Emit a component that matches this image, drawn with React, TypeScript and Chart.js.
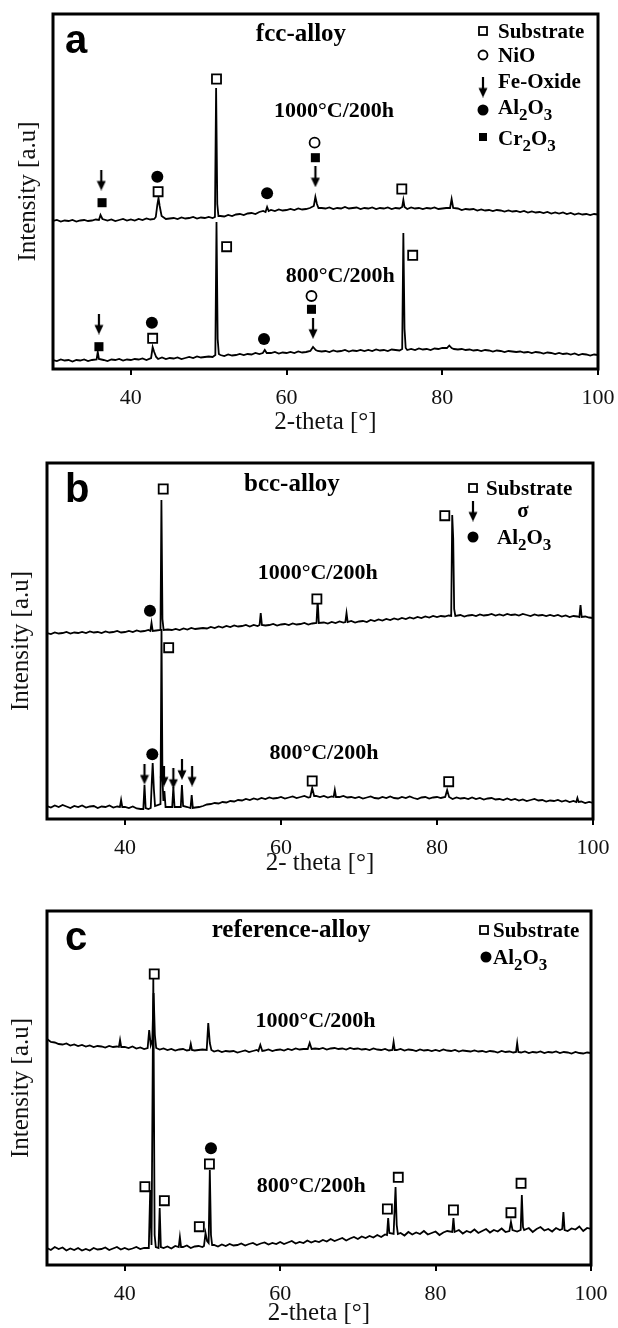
import React, { useEffect, useRef } from "react";
import { Chart, registerables } from "chart.js";
Chart.register(...registerables);

const SERIF = '"Liberation Serif", "Times New Roman", serif';
const SANS = '"Liberation Sans", Arial, sans-serif';

// scan sampling (2-theta start / step of the recorded baseline)
const scanStart = 30;
const scanStep = 0.5;
const xTicks = [40, 60, 80, 100];

// ---------- panel a : fcc-alloy ----------
const a800Base = [
  9, 8, 9.5, 8.5, 9, 7.5, 9, 8.5, 9.5, 8,
  9, 8.5, 10, 9, 8, 9.5, 9, 10, 8.5, 9.5,
  9, 10, 9.5, 10.5, 9, 10, 11, 10, 11.5, 10,
  11, 10.5, 11.5, 10, 11, 12, 11, 12.5, 11.5, 12,
  12.5, 12, 13, 14, 13, 14.5, 13.5, 14, 15, 14,
  15, 14.5, 16, 15, 16.5, 15, 16, 17, 15.5, 16.5,
  16, 17, 16, 17.5, 16.5, 17, 18, 17, 18, 17.5,
  18, 17, 18.5, 17.5, 18, 19, 17.5, 18.5, 18, 19,
  18, 19, 18, 19.5, 18.5, 19, 18, 19.5, 19, 18.5,
  19.5, 19, 20, 19, 20.5, 19.5, 20, 19, 20.5, 20,
  21, 20, 21.5, 20, 19.5, 20, 19, 19.5, 18.5, 19,
  18, 19, 18.5, 17.5, 18.5, 18, 17, 18, 17.5, 17,
  17.5, 16.5, 17, 16, 17, 16.5, 15.5, 16.5, 16, 15,
  16, 15, 15.5, 14.5, 15.5, 14, 15, 14.5, 13.5, 14.5,
  14,
];
const a800Peaks = [
  [35.6, 9.5], [35.75, 17], [35.9, 10],
  [42.6, 11], [42.8, 22], [43.0, 17], [43.25, 12],
  [50.85, 14], [51.0, 147], [51.15, 30], [51.3, 15],
  [56.95, 16], [57.2, 19], [57.45, 16],
  [63.05, 18], [63.4, 22], [63.75, 19],
  [74.85, 20], [75.0, 136], [75.15, 40], [75.3, 21],
  [80.6, 21], [80.9, 23.5], [81.2, 21],
];
const a1000Base = [
  148, 149, 147.5, 148.5, 148, 149, 147.5, 148.5, 149, 148,
  148.5, 149.5, 148, 149, 148.5, 149.5, 148, 149, 150, 148.5,
  149.5, 148.5, 150, 149, 150.5, 149.5, 150, 150.5, 151, 150,
  150.5, 151, 150, 151.5, 150.5, 151, 152, 150.5, 151.5, 151,
  152, 151, 152, 153, 152.5, 154, 153, 154.5, 155, 154,
  155.5, 156, 155, 157, 158, 157.5, 159, 158, 159.5, 158.5,
  159, 160, 159, 160.5, 159.5, 160, 161, 160, 160.5, 161,
  160.5, 161.5, 160, 161, 160.5, 162, 160.5, 161, 161.5, 160,
  161, 160.5, 161.5, 160, 161, 160.5, 161.5, 160, 161, 160.5,
  161, 160, 161.5, 160.5, 161, 160, 161, 160.5, 161.5, 160,
  160.5, 161, 160, 159.5, 160.5, 159, 160, 159.5, 160, 158.5,
  159.5, 158.5, 159, 158, 159, 158.5, 157.5, 158.5, 157.5, 158,
  157, 158, 156.5, 157.5, 156.5, 157, 156, 157, 155.5, 156.5,
  155.5, 156.5, 155, 156, 154.5, 155.5, 154.5, 155, 154, 155,
  154.5,
];
const a1000Peaks = [
  [35.9, 149], [36.1, 154], [36.35, 150],
  [43.2, 152], [43.4, 164], [43.55, 171], [43.7, 163], [43.95, 153],
  [50.8, 152], [50.95, 281], [51.1, 165], [51.25, 153],
  [57.3, 157], [57.5, 162], [57.7, 158],
  [63.5, 163], [63.7, 172], [63.9, 165], [64.1, 161],
  [74.85, 162], [75.0, 169], [75.15, 162],
  [81.0, 161], [81.2, 170], [81.4, 161],
];
const aSubstrate = [[51.0, 290], [43.5, 177.3], [74.8, 180], [42.8, 30.7], [52.3, 122.3], [76.2, 113.7]];
const aNiO = [[63.6, 226.3], [63.2, 73]];
const aFeOxide = [[36.2, 189], [63.7, 192.3], [35.9, 45], [63.4, 40.7]];
const aAl2O3 = [[43.4, 192.3], [57.5, 175.7], [42.7, 46.3], [57.1, 30]];
const aCr2O3 = [[36.3, 166.3], [63.7, 211.3], [35.9, 22.3], [63.2, 59.7]];

// ---------- panel b : bcc-alloy ----------
const b800Base = [
  13, 11.5, 13.5, 12, 14, 12.5, 11, 13, 12, 13.5,
  11.5, 12.5, 13, 11, 12.5, 12, 13.5, 11.5, 12.5, 13,
  12, 11, 12.5, 10.5, 10, 9.5, 10, 11, 11.5, 12,
  11, 12, 11, 12.5, 10.5, 11, 12, 10.5, 11.5, 12,
  13, 14.5, 15, 16, 15.5, 17, 16.5, 18, 17.5, 19,
  18.5, 20, 19, 20.5, 19.5, 21, 20, 21.5, 20.5, 21,
  22, 20.5, 21.5, 22.5, 21, 22, 23, 21.5, 22.5, 23,
  22, 23, 21.5, 22.5, 21, 22, 23, 21.5, 22, 21,
  22, 20.5, 21.5, 22.5, 21, 20.5, 22, 21, 22.5, 21,
  20.5, 22, 21, 22.5, 21, 20, 21.5, 22, 20.5, 21.5,
  22, 21, 22.5, 21, 20, 21.5, 20.5, 21, 20, 21.5,
  20, 21, 19.5, 20.5, 21, 19.5, 20, 19, 20.5, 19,
  20, 18.5, 19.5, 18, 19, 20, 18.5, 19, 17.5, 18.5,
  18, 19, 17.5, 18.5, 17, 18, 16.5, 17.5, 16, 17,
  16,
];
const b800Peaks = [
  [39.35, 12], [39.5, 19], [39.65, 12],
  [42.35, 10], [42.5, 34], [42.65, 11],
  [43.3, 11], [43.45, 40], [43.55, 56], [43.7, 30], [43.85, 13],
  [44.55, 15], [44.68, 190], [44.8, 40], [44.92, 18], [45.05, 28], [45.2, 12],
  [46.05, 12], [46.2, 32], [46.35, 12],
  [47.15, 12], [47.3, 34], [47.45, 13],
  [48.4, 11], [48.55, 24], [48.7, 11],
  [63.75, 22], [64.0, 31], [64.25, 23],
  [66.75, 22], [66.9, 29], [67.05, 22],
  [81.05, 22], [81.3, 29], [81.55, 22],
  [97.85, 17], [98.0, 21], [98.15, 17],
];
const b1000Base = [
  186, 185, 186.5, 185.5, 186, 187, 185.5, 186.5, 186, 187,
  186, 187.5, 186.5, 187, 186, 187.5, 186.5, 187, 188, 186.5,
  187, 188, 187, 188.5, 187.5, 188, 189, 187.5, 188.5, 189,
  188.5, 189.5, 189, 190, 189, 190.5, 189.5, 191, 190, 190.5,
  191, 190.5, 192, 191, 192.5, 191.5, 193, 192, 193.5, 192.5,
  193, 194, 192.5, 194, 193, 194.5, 193.5, 194, 195, 193.5,
  194.5, 195, 194, 195.5, 194.5, 195, 196, 194.5, 195.5, 196,
  195, 196.5, 195.5, 197, 196, 197.5, 196.5, 197, 198, 196.5,
  197.5, 198, 197, 199, 198, 199.5, 198.5, 200, 199, 200.5,
  199.5, 201, 200, 201.5, 200.5, 202, 201, 202.5, 201.5, 203,
  202, 203, 202.5, 203.5, 202, 203, 204, 202.5, 203.5, 204,
  203, 204.5, 203.5, 204, 205, 203.5, 204.5, 203.5, 205, 204,
  204.5, 203.5, 205, 204, 203, 204.5, 203.5, 204, 203, 204,
  203, 204, 202.5, 203.5, 202, 203, 202.5, 201.5, 202.5, 201.5,
  201,
];
const b1000Peaks = [
  [43.25, 188], [43.4, 196], [43.55, 188],
  [44.55, 189], [44.67, 319], [44.8, 200], [44.95, 189],
  [57.25, 194], [57.4, 206], [57.55, 194],
  [64.55, 196], [64.7, 219], [64.85, 196],
  [68.25, 197], [68.4, 206], [68.55, 197],
  [81.82, 203], [81.95, 304], [82.08, 280], [82.2, 210], [82.35, 203],
  [98.25, 202], [98.4, 214], [98.55, 202],
];
const bSubstrate = [[44.9, 330], [81.0, 303.3], [64.6, 220], [45.6, 171.3], [64.0, 38], [81.5, 37.3]];
const bSigma = [[42.5, 45], [45.0, 43], [46.2, 40.7], [47.3, 49.7], [48.6, 43]];
const bAl2O3 = [[43.2, 208.3], [43.5, 64.7]];

// ---------- panel c : reference-alloy ----------
const c800Base = [
  17, 15, 18, 16, 17.5, 14.5, 16.5, 15, 17, 14.5,
  16, 14.5, 17, 15.5, 16, 17.5, 15, 16.5, 18, 15.5,
  17, 15.5, 16.5, 18, 16, 17, 15.5, 17.5, 16, 18,
  17, 18.5, 16.5, 19, 17.5, 18, 19.5, 17, 18.5, 19,
  18, 19.5, 18, 20, 18.5, 20.5, 19, 21, 19.5, 20,
  21.5, 19.5, 21, 22, 20, 21.5, 22.5, 20.5, 22, 21,
  23, 21, 22.5, 24, 21.5, 23, 22, 24.5, 22.5, 24,
  23, 25, 23.5, 26, 24, 25.5, 27, 24.5, 26.5, 28,
  26, 28.5, 27, 29, 27.5, 30, 28, 30.5, 29, 31,
  30, 32, 29.5, 33, 30.5, 32.5, 31, 34, 30.5, 32,
  33.5, 30, 32.5, 34, 31, 33, 35, 31.5, 34, 32.5,
  35.5, 32, 34, 36, 32.5, 35, 33.5, 36.5, 33, 35,
  37, 33.5, 35.5, 34, 37, 33, 36, 38, 34.5, 36,
  33.5, 37, 35, 38, 34, 36.5, 35.5, 38.5, 34, 37,
  36,
];
const c800Peaks = [
  [43.1, 17], [43.28, 75], [43.45, 20], [43.68, 287], [43.85, 30], [44.0, 18],
  [44.35, 17], [44.5, 57], [44.65, 18],
  [46.95, 18], [47.1, 28], [47.25, 18],
  [50.2, 19], [50.4, 32], [50.6, 24], [50.8, 22], [50.95, 95], [51.1, 30], [51.25, 20],
  [73.75, 30], [73.9, 47], [74.05, 32], [74.6, 31], [74.85, 78], [75.0, 40], [75.15, 31],
  [82.15, 33], [82.3, 47], [82.45, 33],
  [89.5, 34], [89.7, 43], [89.9, 35],
  [90.95, 35], [91.1, 70], [91.25, 38], [91.4, 35],
  [96.3, 36], [96.45, 53], [96.6, 35],
];
const c1000Base = [
  226, 223, 222.5, 221, 220.5, 221.5, 219.5, 220.5, 219, 220,
  218.5, 219.5, 218, 219, 218.5, 217.5, 219, 218, 218.5, 217.5,
  218, 217, 218.5, 216.5, 217.5, 216, 217, 216.5, 217, 215.5,
  216.5, 215, 216, 214.5, 215.5, 216, 214.5, 215.5, 214.5, 215,
  215.5, 214, 215, 213.5, 214.5, 213, 214, 213.5, 214, 212.5,
  213.5, 214.5, 213, 214, 215, 213.5, 214.5, 215.5, 214, 215,
  215.5, 214.5, 216, 215, 216.5, 215.5, 216, 217, 215.5, 216.5,
  216, 217, 215.5, 216.5, 217, 216, 216.5, 215.5, 217, 216,
  216.5, 215.5, 216, 215, 216.5, 215.5, 215, 216, 214.5, 215.5,
  215, 216, 214.5, 215.5, 215, 214, 215.5, 214.5, 215, 214,
  215, 214, 215.5, 214.5, 214, 215, 213.5, 214.5, 214, 213.5,
  214.5, 213.5, 214, 213, 214, 213.5, 212.5, 214, 213, 213.5,
  212.5, 213.5, 212.5, 213.5, 212, 213, 212.5, 213.5, 212, 213,
  212.5, 213.5, 212, 213, 212.5, 211.5, 213, 212, 211.5, 212.5,
  212,
];
const c1000Peaks = [
  [39.25, 218], [39.4, 225], [39.55, 218],
  [42.95, 217], [43.15, 235], [43.35, 220], [43.55, 225], [43.72, 272], [43.88, 230], [44.05, 217],
  [48.35, 215], [48.5, 221], [48.65, 215],
  [50.55, 215], [50.75, 242], [50.95, 222], [51.15, 215],
  [57.2, 214], [57.45, 220], [57.7, 214],
  [63.55, 216], [63.8, 222], [64.05, 216],
  [74.45, 215], [74.6, 223], [74.75, 215],
  [90.35, 213], [90.5, 222], [90.65, 213],
];
const cSubstrate = [[43.8, 291], [42.6, 78.3], [45.1, 64.3], [49.6, 38.3], [50.9, 101], [73.8, 56], [75.2, 87.7], [82.3, 55], [89.7, 52.3], [91.0, 81.7]];
const cAl2O3 = [[51.1, 116.7]];

// ---------- helpers ----------
function buildTrace(base: number[], peaks: number[][]) {
  const pts: { x: number; y: number }[] = [];
  base.forEach((y, i) => {
    const x = scanStart + i * scanStep;
    if (peaks.some((p) => Math.abs(p[0] - x) < 0.18)) return;
    pts.push({ x, y });
  });
  peaks.forEach((p) => pts.push({ x: p[0], y: p[1] }));
  pts.sort((a, b) => a.x - b.x);
  return pts;
}
const toPts = (arr: number[][]) => arr.map((p) => ({ x: p[0], y: p[1] }));

let arrowCache: HTMLCanvasElement | null = null;
function arrowImage() {
  if (arrowCache) return arrowCache;
  const c = document.createElement("canvas");
  c.width = 10;
  c.height = 21;
  const g = c.getContext("2d")!;
  g.strokeStyle = "#000";
  g.fillStyle = "#000";
  g.lineWidth = 2.2;
  g.beginPath();
  g.moveTo(5, 0);
  g.lineTo(5, 13);
  g.stroke();
  g.beginPath();
  g.moveTo(0.5, 11.5);
  g.lineTo(9.5, 11.5);
  g.lineTo(5, 21);
  g.closePath();
  g.fill();
  arrowCache = c;
  return c;
}

function drawRich(ctx: CanvasRenderingContext2D, text: string, x: number, yMid: number, size: number, align: string) {
  const segs: { t: string; sub: boolean }[] = [];
  let i = 0;
  while (i < text.length) {
    if (text[i] === "_") {
      segs.push({ t: text[i + 1], sub: true });
      i += 2;
    } else {
      let j = i;
      while (j < text.length && text[j] !== "_") j++;
      segs.push({ t: text.slice(i, j), sub: false });
      i = j;
    }
  }
  const fMain = `bold ${size}px ${SERIF}`;
  const fSub = `bold ${Math.round(size * 0.8)}px ${SERIF}`;
  let total = 0;
  const widths = segs.map((s) => {
    ctx.font = s.sub ? fSub : fMain;
    const w = ctx.measureText(s.t).width;
    total += w;
    return w;
  });
  let cx = align === "center" ? x - total / 2 : x;
  const base = yMid + size * 0.34;
  ctx.textAlign = "left";
  ctx.textBaseline = "alphabetic";
  segs.forEach((s, k) => {
    ctx.font = s.sub ? fSub : fMain;
    ctx.fillText(s.t, cx, s.sub ? base + size * 0.3 : base);
    cx += widths[k];
  });
}

function drawLegendMarker(ctx: CanvasRenderingContext2D, kind: string, x: number, y: number) {
  ctx.save();
  ctx.strokeStyle = "#000";
  ctx.fillStyle = "#000";
  ctx.lineWidth = 1.8;
  if (kind === "openSquare") {
    ctx.fillStyle = "#fff";
    ctx.fillRect(x - 4, y - 4, 8, 8);
    ctx.strokeRect(x - 4, y - 4, 8, 8);
  } else if (kind === "filledSquare") {
    ctx.fillRect(x - 4, y - 4, 8, 8);
  } else if (kind === "openCircle") {
    ctx.beginPath();
    ctx.arc(x, y, 4.5, 0, Math.PI * 2);
    ctx.stroke();
  } else if (kind === "filledCircle") {
    ctx.beginPath();
    ctx.arc(x, y, 5.5, 0, Math.PI * 2);
    ctx.fill();
  } else if (kind === "arrow") {
    const img = arrowImage();
    ctx.drawImage(img, x - img.width / 2, y - img.height / 2);
  }
  ctx.restore();
}

type Panel = {
  key: string;
  top: number;
  height: number;
  letter: string;
  padTop: number;
  padRight: number;
  yAxisWidth: number;
  xAxisHeight: number;
  xTitle: string;
  xTitlePad: number;
  yTitlePad: number;
  yMax: number;
  trace800: { x: number; y: number }[];
  trace1000: { x: number; y: number }[];
  markers: { kind: string; data: number[][] }[];
  labels: { text: string; x: number; y: number; size: number }[];
  legend: { kind: string; mx: number; my: number; text: string; tx: number; ty: number; align: string }[];
};

const panels: Panel[] = [
  {
    key: "a", top: 0, height: 440, letter: "a", padTop: 14, padRight: 20, yAxisWidth: 53, xAxisHeight: 71,
    xTitle: "2-theta [°]", xTitlePad: 3, yTitlePad: 13, yMax: 355,
    trace800: buildTrace(a800Base, a800Peaks), trace1000: buildTrace(a1000Base, a1000Peaks),
    markers: [
      { kind: "openSquare", data: aSubstrate },
      { kind: "openCircle", data: aNiO },
      { kind: "arrow", data: aFeOxide },
      { kind: "filledCircle", data: aAl2O3 },
      { kind: "filledSquare", data: aCr2O3 },
    ],
    labels: [
      { text: "fcc-alloy", x: 61.85, y: 337, size: 25 },
      { text: "1000°C/200h", x: 66.1, y: 259, size: 22 },
      { text: "800°C/200h", x: 66.9, y: 94, size: 22 },
    ],
    legend: [
      { kind: "openSquare", mx: 483, my: 31, text: "Substrate", tx: 498, ty: 31, align: "left" },
      { kind: "openCircle", mx: 483, my: 55, text: "NiO", tx: 498, ty: 55, align: "left" },
      { kind: "arrow", mx: 483, my: 87, text: "Fe-Oxide", tx: 498, ty: 81, align: "left" },
      { kind: "filledCircle", mx: 483, my: 110, text: "Al_2O_3", tx: 498, ty: 107, align: "left" },
      { kind: "filledSquare", mx: 483, my: 137, text: "Cr_2O_3", tx: 498, ty: 138, align: "left" },
    ],
  },
  {
    key: "b", top: 440, height: 440, letter: "b", padTop: 23, padRight: 25, yAxisWidth: 47, xAxisHeight: 61,
    xTitle: "2- theta [°]", xTitlePad: 2, yTitlePad: 6, yMax: 356,
    trace800: buildTrace(b800Base, b800Peaks), trace1000: buildTrace(b1000Base, b1000Peaks),
    markers: [
      { kind: "openSquare", data: bSubstrate },
      { kind: "arrow", data: bSigma },
      { kind: "filledCircle", data: bAl2O3 },
    ],
    labels: [
      { text: "bcc-alloy", x: 61.4, y: 337, size: 25 },
      { text: "1000°C/200h", x: 64.7, y: 247, size: 22 },
      { text: "800°C/200h", x: 65.5, y: 67, size: 22 },
    ],
    legend: [
      { kind: "openSquare", mx: 473, my: 48, text: "Substrate", tx: 486, ty: 48, align: "left" },
      { kind: "arrow", mx: 473, my: 71, text: "σ", tx: 523, ty: 70, align: "center" },
      { kind: "filledCircle", mx: 473, my: 97, text: "Al_2O_3", tx: 497, ty: 97, align: "left" },
    ],
  },
  {
    key: "c", top: 880, height: 448, letter: "c", padTop: 31, padRight: 27, yAxisWidth: 47, xAxisHeight: 63,
    xTitle: "2-theta [°]", xTitlePad: 0, yTitlePad: 6, yMax: 354,
    trace800: buildTrace(c800Base, c800Peaks), trace1000: buildTrace(c1000Base, c1000Peaks),
    markers: [
      { kind: "openSquare", data: cSubstrate },
      { kind: "filledCircle", data: cAl2O3 },
    ],
    labels: [
      { text: "reference-alloy", x: 61.4, y: 337, size: 25 },
      { text: "1000°C/200h", x: 64.55, y: 245, size: 22 },
      { text: "800°C/200h", x: 64.0, y: 80, size: 22 },
    ],
    legend: [
      { kind: "openSquare", mx: 484, my: 50, text: "Substrate", tx: 493, ty: 50, align: "left" },
      { kind: "filledCircle", mx: 486, my: 77, text: "Al_2O_3", tx: 493, ty: 77, align: "left" },
    ],
  },
];

function markerDataset(kind: string, data: number[][]) {
  const common: any = { data: toPts(data), showLine: false, order: 1, borderColor: "#000", pointHoverRadius: 0 };
  if (kind === "openSquare") return { ...common, pointStyle: "rect", pointRadius: 6.4, backgroundColor: "#fff", borderWidth: 1.8 };
  if (kind === "filledSquare") return { ...common, pointStyle: "rect", pointRadius: 6.4, backgroundColor: "#000", borderWidth: 0 };
  if (kind === "openCircle") return { ...common, pointStyle: "circle", pointRadius: 5, backgroundColor: "#fff", borderWidth: 1.8 };
  if (kind === "filledCircle") return { ...common, pointStyle: "circle", pointRadius: 6, backgroundColor: "#000", borderWidth: 0 };
  return { ...common, pointStyle: arrowImage(), pointRadius: 10 };
}

function makeConfig(p: Panel): any {
  const framePlugin = {
    id: "frame" + p.key,
    afterDatasetsDraw(chart: any) {
      const { ctx, chartArea } = chart;
      const { left, top, right, bottom } = chartArea;
      const xs = chart.scales.x;
      const ys = chart.scales.y;
      ctx.save();
      ctx.strokeStyle = "#000";
      ctx.lineWidth = 3;
      ctx.strokeRect(left, top, right - left, bottom - top);
      ctx.fillStyle = "#000";
      ctx.font = `bold 40px ${SANS}`;
      ctx.textAlign = "left";
      ctx.textBaseline = "alphabetic";
      ctx.fillText(p.letter, 65, top + 39);
      p.labels.forEach((l) => {
        drawRich(ctx, l.text, xs.getPixelForValue(l.x), ys.getPixelForValue(l.y), l.size, "center");
      });
      p.legend.forEach((it) => {
        drawLegendMarker(ctx, it.kind, it.mx, it.my);
        ctx.fillStyle = "#000";
        drawRich(ctx, it.text, it.tx, it.ty, 21, it.align);
      });
      ctx.restore();
    },
  };
  const lineStyle = { showLine: true, borderColor: "#000", borderWidth: 1.8, pointRadius: 0, pointHoverRadius: 0, order: 2, tension: 0 };
  return {
    type: "scatter",
    data: {
      datasets: [
        { ...lineStyle, label: "800°C/200h", data: p.trace800 },
        { ...lineStyle, label: "1000°C/200h", data: p.trace1000 },
        ...p.markers.map((m) => markerDataset(m.kind, m.data)),
      ],
    },
    options: {
      responsive: false,
      animation: false,
      devicePixelRatio: 1,
      events: [],
      layout: { padding: { top: p.padTop, right: p.padRight, left: 0, bottom: 0 } },
      plugins: { legend: { display: false }, tooltip: { enabled: false }, title: { display: false } },
      scales: {
        x: {
          type: "linear",
          min: 30,
          max: 100,
          position: "bottom",
          afterBuildTicks: (s: any) => {
            s.ticks = xTicks.map((v) => ({ value: v }));
          },
          afterFit: (s: any) => {
            s.height = p.xAxisHeight;
            s.paddingLeft = 0;
            s.paddingRight = 0;
          },
          grid: { display: true, drawOnChartArea: false, drawTicks: true, tickLength: 6, lineWidth: 2, color: "#000" },
          border: { display: false },
          ticks: {
            font: { family: SERIF, size: 22 },
            color: "#111",
            padding: 10,
            maxRotation: 0,
            autoSkip: false,
            callback: (v: any) => String(v),
          },
          title: { display: true, text: p.xTitle, font: { family: SERIF, size: 25 }, color: "#111", padding: { top: 0, bottom: p.xTitlePad } },
        },
        y: {
          type: "linear",
          min: 0,
          max: p.yMax,
          position: "left",
          afterFit: (s: any) => {
            s.width = p.yAxisWidth;
          },
          grid: { display: false },
          border: { display: false },
          ticks: { display: false },
          title: { display: true, text: "Intensity [a.u]", font: { family: SERIF, size: 25 }, color: "#111", padding: { top: p.yTitlePad, bottom: 0 } },
        },
      },
    },
    plugins: [framePlugin],
  };
}

function PanelChart({ p }: { p: Panel }) {
  const ref = useRef<HTMLCanvasElement | null>(null);
  useEffect(() => {
    const chart = new Chart(ref.current as HTMLCanvasElement, makeConfig(p));
    return () => chart.destroy();
  }, [p]);
  return (
    <canvas
      ref={ref}
      width={618}
      height={p.height}
      style={{ position: "absolute", left: 0, top: p.top, width: 618, height: p.height }}
    />
  );
}

export default function App() {
  return (
    <div style={{ position: "absolute", left: 0, top: 0, width: 618, height: 1328, background: "#fff" }}>
      {panels.map((p) => (
        <PanelChart key={p.key} p={p} />
      ))}
    </div>
  );
}
